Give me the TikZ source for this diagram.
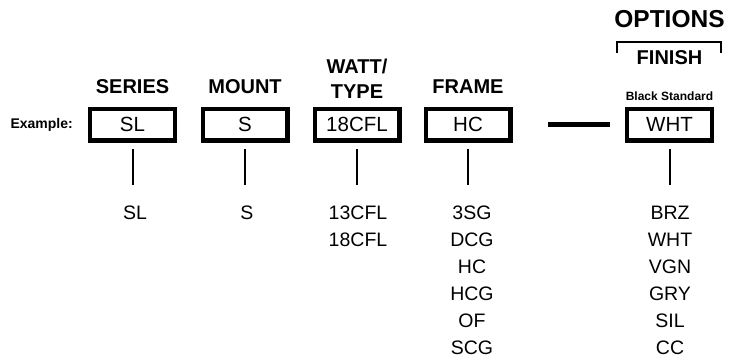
\documentclass[tikz,border=0pt]{standalone}
\usepackage{fontspec}
\setmainfont{Liberation Sans}
\usetikzlibrary{positioning}
\begin{document}
\begin{tikzpicture}[x=1pt,y=-1pt,
  codebox/.style={draw, line width=4.2pt, minimum width=84.8pt, minimum height=31.8pt, inner sep=0pt, font=\fontsize{20.5}{23}\selectfont},
  head/.style={inner sep=0pt, align=center, font=\bfseries\fontsize{20}{25}\selectfont},
  choices/.style={anchor=north, inner sep=0pt, align=center, font=\fontsize{19.5}{27}\selectfont},
  stem/.style={line width=2pt, shorten <=6pt, shorten >=21pt},
  joint/.style={line width=4.8pt, shorten <=35pt, shorten >=15pt}]
\useasboundingbox (0,0) rectangle (731,362);
% code boxes
\node[codebox] (slbox) at (132.5,124.5) {SL};
\node[codebox] (sbox) at (245,124.5) {S};
\node[codebox] (wattbox) at (357,124.5) {18CFL};
\node[codebox] (hcbox) at (468,124.5) {HC};
\node[codebox] (whtbox) at (669.5,124.5) {WHT};
\node[font=\bfseries\fontsize{14}{16}\selectfont, inner sep=0pt, left=15pt of slbox] (example) {Example:};
% headings
\node[head, above=13pt of slbox] (serieshead) {SERIES};
\node[head, above=13pt of sbox] (mounthead) {MOUNT};
\node[head, above=8pt of wattbox] (watthead) {WATT/\\TYPE};
\node[head, above=13pt of hcbox] (framehead) {FRAME};
\node[inner sep=0pt, font=\bfseries\fontsize{12}{14}\selectfont, above=6pt of whtbox] (blackstd) {Black Standard};
\node[head, above=26pt of blackstd] (finishhead) {FINISH};
\node[head, font=\bfseries\fontsize{24.5}{28}\selectfont, above=23pt of finishhead] (optionshead) {OPTIONS};
\draw[line width=1.6pt] (617,53) |- (721,42) -- (721,53);
% choices
\node[choices] (sllist) at (135,206) {SL};
\node[choices] (slist) at (247,206) {S};
\node[choices] (wattlist) at (358,206) {13CFL\\18CFL};
\node[choices] (hclist) at (472,206) {3SG\\DCG\\HC\\HCG\\OF\\SCG};
\node[choices] (whtlist) at (670,206) {BRZ\\WHT\\VGN\\GRY\\SIL\\CC};
\draw[stem] (slbox) -- (slbox |- sllist.north);
\draw[stem] (sbox) -- (sbox |- slist.north);
\draw[stem] (wattbox) -- (wattbox |- wattlist.north);
\draw[stem] (hcbox) -- (hcbox |- hclist.north);
\draw[stem] (whtbox) -- (whtbox |- whtlist.north);
\draw[joint] (hcbox) -- (whtbox);
\end{tikzpicture}
\end{document}
